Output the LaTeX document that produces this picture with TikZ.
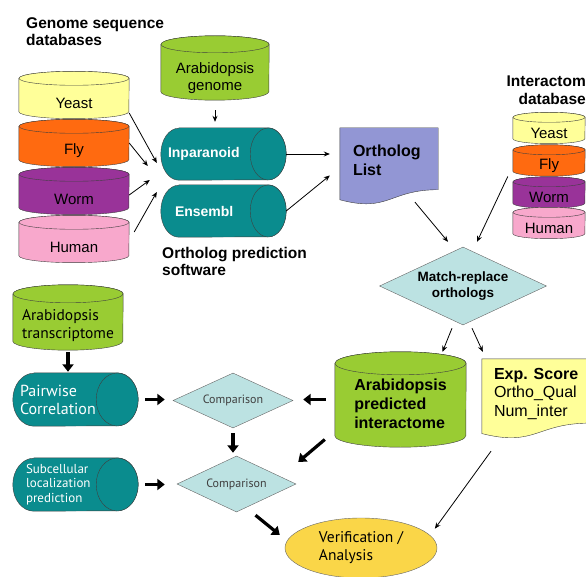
\documentclass[tikz,border=0pt]{standalone}
\usepackage{fontspec}
\setmainfont{Liberation Sans}
\newfontfamily\humfont{PT Sans}
\usetikzlibrary{arrows.meta,positioning,calc,shapes.geometric,backgrounds}
\definecolor{DbYellow}{HTML}{FFFF99}
\definecolor{DbOrange}{HTML}{FF6A10}
\definecolor{DbPurple}{HTML}{993399}
\definecolor{DbPink}{HTML}{F8A8CC}
\definecolor{DbGreen}{HTML}{99CC33}
\definecolor{SoftTeal}{HTML}{0A8C8E}
\definecolor{DocBlue}{HTML}{9296D4}
\definecolor{DecCyan}{HTML}{BCE2E2}
\definecolor{VerGold}{HTML}{FAD648}
\tikzset{>=Stealth,every node/.style={font=\fontsize{15}{17}\selectfont},
 cylbox/.style={draw=none,inner sep=0},
 cmp/.style={diamond,draw=black!60,fill=DecCyan,inner sep=0,text=black!75,font=\humfont\fontsize{12}{14}\selectfont},
 ttl/.style={font=\bfseries\fontsize{15.5}{17.5}\selectfont,inner sep=0,align=left},
 wtxt/.style={text=white,inner sep=0,font=\bfseries\fontsize{14}{16}\selectfont},
 htxt/.style={text=white,inner sep=0,align=left,font=\humfont\fontsize{16}{18}\selectfont},
 tarr/.style={-{Stealth[length=6pt,width=5pt]},line width=.8pt},
 farr/.style={-{Triangle[length=7.5pt,width=11pt]},line width=3.2pt}}
% upright database drum: node, colour, x radius, y radius
\newcommand\dbcyl[4]{%
 \draw[draw=black!75,fill=#2] ([yshift=-#4pt]#1.north west) -- ([yshift=#4pt]#1.south west)
  arc[start angle=180,end angle=360,x radius=#3pt,y radius=#4pt] -- ([yshift=-#4pt]#1.north east)
  arc[start angle=0,end angle=180,x radius=#3pt,y radius=#4pt] -- cycle;
 \draw[draw=black!75,fill=#2] ([yshift=-#4pt]#1.north) ellipse[x radius=#3pt,y radius=#4pt];}
% lying drum: node, x radius, y radius
\newcommand\swcyl[3]{%
 \draw[draw=black!75,fill=SoftTeal] ([xshift=#2pt]#1.north west) -- ([xshift=-#2pt]#1.north east)
  arc[start angle=90,end angle=-90,x radius=#2pt,y radius=#3pt] -- ([xshift=#2pt]#1.south west)
  arc[start angle=270,end angle=90,x radius=#2pt,y radius=#3pt] -- cycle;
 \draw[draw=black!75,fill=SoftTeal] ([xshift=-#2pt]#1.east) ellipse[x radius=#2pt,y radius=#3pt];}
\begin{document}
\begin{tikzpicture}[x=1pt,y=-1pt]
\useasboundingbox (0,0) rectangle (586,577);
\clip (0,0) rectangle (586,577);
% genome databases
\node[ttl,anchor=north west] (gdbT) at (26,17) {Genome sequence\\databases};
\foreach \nm/\lab/\col/\yy in {yeastL/Yeast/DbYellow/95,flyL/Fly/DbOrange/143,
 wormL/Worm/DbPurple/191,humanL/Human/DbPink/239}{
 \node[cylbox,minimum width=110,minimum height=47] (\nm) at (74,\yy) {};
 \dbcyl{\nm}{\col}{55}{7}
 \node (\nm T) at ([shift={(0,8)}]\nm.center) {\lab};}
\node[cylbox,minimum width=108,minimum height=64] (genome) at (215,68) {};
\dbcyl{genome}{DbGreen}{54}{8.5}
\node[align=center] (genomeT) at ([shift={(0,10)}]genome.center) {Arabidopsis\\genome};
% ortholog prediction software
\foreach \nm/\yy in {inpara/154,ensem/211}{
 \node[cylbox,minimum width=125,minimum height=52] (\nm) at (223.5,\yy) {};
 \swcyl{\nm}{18}{26}}
\node[wtxt,anchor=west] (inparaT) at ([xshift=7]inpara.west) {Inparanoid};
\node[wtxt,anchor=west] (ensemT) at ([xshift=14]ensem.west) {Ensembl};
\node[ttl,anchor=north west] (swT) at (162,247) {Ortholog prediction\\software};
\node[cylbox,minimum width=98,minimum height=77] (olist) at (389,166.5) {};
\node[anchor=north west,inner sep=0,align=left,font=\bfseries\fontsize{16}{19}\selectfont] (olistT)
 at ([shift={(13,17)}]olist.north west) {Ortholog\\List};
% interactome databases
\node[ttl,anchor=north east,align=right] (idbT) at (586,76) {Interactom\\database};
\foreach \nm/\lab/\col/\yy in {yeastR/Yeast/DbYellow/128,flyR/Fly/DbOrange/160.5,
 wormR/Worm/DbPurple/192.5,humanR/Human/DbPink/223}{
 \node[cylbox,minimum width=72,minimum height=31] (\nm) at (549,\yy) {};
 \dbcyl{\nm}{\col}{36}{5}
 \node (\nm T) at ([shift={(0,5)}]\nm.center) {\lab};}
\node[diamond,draw=black!60,fill=DecCyan,inner sep=0,minimum width=167,minimum height=78,aspect=2.14,
 align=center,font=\bfseries\fontsize{13.5}{15.5}\selectfont] (match) at (463,286) {Match-replace\\orthologs};
\node[cylbox,minimum width=131,minimum height=95] (pred) at (400.5,399.5) {};
\dbcyl{pred}{DbGreen}{65.5}{11.5}
\node[align=left,font=\bfseries\fontsize{16}{19}\selectfont] (predT) at ([shift={(0,4)}]pred.center)
 {Arabidopsis\\predicted\\interactome};
\node[cylbox,minimum width=108,minimum height=80] (expsc) at (536,399) {};
\node[anchor=north west,inner sep=0,align=left,font=\fontsize{16}{18.5}\selectfont] (expscT)
 at ([shift={(12,9)}]expsc.north west) {\textbf{Exp. Score}\\Ortho\_Qual\\Num\_inter};
\node[ellipse,draw=black!60,fill=VerGold,minimum width=152,minimum height=60,inner sep=0,align=left,
 font=\humfont\fontsize{15.5}{18}\selectfont] (verif) at (361,548) {Verification /\\Analysis};
% transcriptome branch
\node[cylbox,minimum width=110,minimum height=65] (trans) at (68,317.5) {};
\dbcyl{trans}{DbGreen}{55}{9}
\node[align=left,font=\humfont\fontsize{15.5}{18}\selectfont] (transT) at ([shift={(0,8)}]trans.center)
 {Arabidopsis\\transcriptome};
\foreach \nm/\yy in {pairw/399.5,subc/484.5}{
 \node[cylbox,minimum width=125,minimum height=53] (\nm) at (75.5,\yy) {};
 \swcyl{\nm}{21}{26.5}}
\node[htxt,anchor=west] (pairwT) at ([xshift=7]pairw.west) {Pairwise\\Correlation};
\node[htxt,anchor=west,font=\humfont\fontsize{13}{14.5}\selectfont] (subcT) at ([xshift=13]subc.west)
 {Subcellular\\localization\\prediction};
\node[cmp,minimum width=120,minimum height=55,aspect=2.2] (comp1) at (233,400.5) {Comparison};
\node[cmp,minimum width=119,minimum height=56,aspect=2.1] (comp2) at (236.5,484) {Comparison};
% document shapes
\begin{scope}[on background layer]
\foreach \d/\col in {olist/DocBlue,expsc/DbYellow}
 \draw[draw=black!75,fill=\col] (\d.north west) -- (\d.north east) -- ($(\d.north east)!.8!(\d.south east)$)
  .. controls ($(\d.north)!.8!(\d.south)$) and ($(\d.north)!1.1!(\d.south)$) .. ($(\d.north west)!.93!(\d.south west)$) -- cycle;
\end{scope}
% thin connectors
\draw[tarr] ([shift={(0,18)}]yeastL.east) -- ([shift={(-4,9)}]inpara.west);
\draw[tarr] (flyL.east) -- ([shift={(-13,12)}]inpara.west);
\draw[tarr] ([shift={(0,4)}]wormL.east) -- ([shift={(-11,-31)}]ensem.west);
\draw[tarr] ([shift={(5,-7)}]humanL.east) -- ([shift={(-4,-19)}]ensem.west);
\draw[tarr,shorten <=10pt,shorten >=6pt] (genome.south) -- (genome.south |- inpara.north);
\draw[tarr,shorten >=10pt] (inpara.east) -- (inpara.east -| olist.west);
\draw[tarr] (ensem.east) -- ([shift={(-10,9)}]olist.west);
\draw[tarr] ([shift={(26,-3)}]olist.south) -- ([shift={(-15,-5)}]match.north);
\draw[tarr] ([shift={(-5,-16)}]wormR.west) -- ([shift={(14,-5)}]match.north);
\draw[tarr] ([shift={(-11,3)}]match.south) -- ([shift={(42,0)}]pred.north);
\draw[tarr] ([shift={(9,3)}]match.south) -- ([shift={(1,-7)}]expsc.north west);
\draw[tarr] ([shift={(-45,12)}]expsc.south) -- ([shift={(20,2)}]verif.north east);
% thick connectors
\draw[farr,shorten <=2pt,shorten >=1pt] (trans.south) -- (trans.south |- pairw.north);
\draw[farr,shorten <=7pt,shorten >=8pt] (pairw.east) -- (pairw.east -| comp1.west);
\draw[farr,shorten <=5pt,shorten >=3pt] (comp1.south) -- (comp1.south |- comp2.north);
\draw[farr,shorten <=7pt,shorten >=12pt] (subc.east) -- (subc.east -| comp2.west);
\draw[farr,shorten <=9pt,shorten >=10pt] (pred.west) -- (pred.west -| comp1.east);
\draw[farr] ([shift={(-10,40)}]pred.west) -- ([shift={(2,-22)}]comp2.east);
\draw[farr] ([shift={(19,3)}]comp2.south) -- ([shift={(-5,-13)}]verif.west);
\end{tikzpicture}
\end{document}
